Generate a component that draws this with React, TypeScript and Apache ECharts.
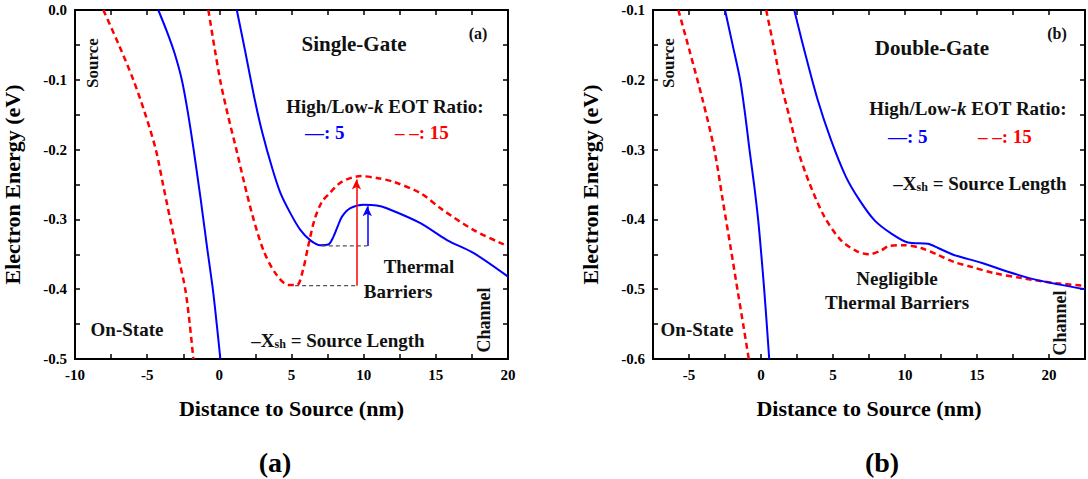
import React, { useEffect, useRef } from 'react';
import * as echarts from 'echarts';

const FONT = '"Liberation Serif", "Times New Roman", serif';
const BLUE = '#0000ff';
const RED = '#ff0000';

// ---------- Panel (a): Single-Gate ----------
const aBlueLeft = [[-4.23, 0], [-3.65, -0.03], [-3.1, -0.062], [-2.6, -0.1], [-2.17, -0.148], [-1.78, -0.2], [-1.3, -0.27], [-0.85, -0.34], [-0.45, -0.4], [-0.18, -0.45], [0.07, -0.5]];
const aRedLeft = [[-8.04, 0], [-7.0, -0.048], [-5.96, -0.1], [-5.15, -0.148], [-4.4, -0.2], [-3.9, -0.25], [-3.4, -0.3], [-2.88, -0.35], [-2.36, -0.4], [-2.05, -0.45], [-1.8, -0.5]];
const aRedRight = [[-0.76, 0], [-0.31, -0.057], [0.1, -0.105], [0.62, -0.153], [1.18, -0.2], [1.73, -0.248], [2.32, -0.296], [3.05, -0.344], [3.88, -0.377], [4.78, -0.394], [5.38, -0.394], [5.8, -0.372], [6.15, -0.339], [6.6, -0.3], [7.1, -0.275], [7.57, -0.264], [8.5, -0.246], [9.8, -0.238], [11.0, -0.241], [12.05, -0.246], [13.9, -0.262], [15.45, -0.286], [17.6, -0.315], [19.5, -0.334], [20, -0.338]];
const aBlueRight = [[1.21, 0], [1.77, -0.057], [2.46, -0.129], [2.98, -0.176], [3.64, -0.225], [4.23, -0.262], [4.92, -0.291], [5.61, -0.315], [6.31, -0.33], [7.0, -0.337], [7.55, -0.336], [7.9, -0.325], [8.2, -0.31], [8.5, -0.296], [9.08, -0.284], [10.0, -0.279], [10.9, -0.28], [11.6, -0.284], [13.9, -0.305], [15.8, -0.33], [17.6, -0.348], [20, -0.382]];
const aBlueGuide = [[7.1, -0.338], [10.25, -0.338]];
const aRedGuide = [[5.25, -0.395], [9.5, -0.395]];
const aBlueArrow = [[10.25, -0.338], [10.25, -0.281]];
const aRedArrow = [[9.5, -0.395], [9.5, -0.243]];

// ---------- Panel (b): Double-Gate ----------
const bRedLeft = [[-5.74, -0.1], [-4.98, -0.157], [-4.05, -0.229], [-3.24, -0.3], [-2.66, -0.372], [-2.08, -0.444], [-1.6, -0.505], [-1.2, -0.555], [-0.85, -0.6]];
const bBlueLeft = [[-2.5, -0.1], [-1.97, -0.15], [-1.45, -0.2], [-1.1, -0.25], [-0.8, -0.3], [-0.48, -0.35], [-0.2, -0.4], [0.02, -0.45], [0.22, -0.5], [0.4, -0.55], [0.57, -0.6]];
const bRedRight = [[0.36, -0.1], [0.93, -0.157], [1.39, -0.205], [1.97, -0.253], [2.55, -0.3], [3.36, -0.348], [4.4, -0.396], [5.56, -0.43], [6.7, -0.446], [7.52, -0.45], [8.3, -0.445], [8.9, -0.438], [9.9, -0.437], [11.1, -0.441], [12.3, -0.451], [13.4, -0.461], [14.6, -0.468], [16.2, -0.477], [18.1, -0.484], [20.3, -0.491], [22.5, -0.495]];
const bBlueRight = [[2.31, -0.1], [3.0, -0.157], [3.94, -0.229], [4.86, -0.286], [5.9, -0.339], [6.83, -0.372], [7.87, -0.401], [9.03, -0.42], [10.2, -0.433], [11.6, -0.435], [12.3, -0.441], [13.4, -0.451], [15.3, -0.462], [17.15, -0.475], [19.2, -0.487], [22.5, -0.5]];

// axis ranges & ticks
const aXRange = [-10, 20];
const aYRange = [-0.5, 0];
const bXRange = [-7.5, 22.5];
const bYRange = [-0.6, -0.1];
const xStep = 2.5;
const yStep = 0.05;

const xTitle = 'Distance to Source (nm)';
const yTitle = 'Electron Energy (eV)';

const xFmt = (v: number) => (Math.abs(v % 5) < 1e-6 ? String(Math.round(v)) : '');
const yFmt = (v: number) => (Math.round(Math.abs(v) * 100) % 10 === 0 ? (Math.abs(v) < 1e-9 ? '0.0' : v.toFixed(1)) : '');

const labelStyle = { fontFamily: FONT, fontWeight: 'bold' as const, fontSize: 15, color: '#000' };
const titleStyle = { fontFamily: FONT, fontWeight: 'bold' as const, fontSize: 22, color: '#000' };

function xAxes(grid: number, range: number[]) {
  const base = {
    type: 'value', gridIndex: grid, min: range[0], max: range[1], interval: xStep,
    splitLine: { show: false },
    axisLine: { show: true, onZero: false, lineStyle: { color: '#000', width: 2 } },
    axisTick: { show: true, inside: true, length: 5, lineStyle: { color: '#000', width: 1.5 } },
  };
  return [
    { ...base, position: 'bottom', axisLabel: { ...labelStyle, formatter: xFmt, margin: 8 },
      name: xTitle, nameLocation: 'middle', nameGap: 38, nameTextStyle: titleStyle },
    { ...base, position: 'top', axisLabel: { show: false } },
  ];
}
function yAxes(grid: number, range: number[], gap: number) {
  const base = {
    type: 'value', gridIndex: grid, min: range[0], max: range[1], interval: yStep,
    splitLine: { show: false },
    axisLine: { show: true, onZero: false, lineStyle: { color: '#000', width: 2 } },
    axisTick: { show: true, inside: true, length: 5, lineStyle: { color: '#000', width: 1.5 } },
  };
  return [
    { ...base, position: 'left', axisLabel: { ...labelStyle, formatter: yFmt, margin: 8 },
      name: yTitle, nameLocation: 'middle', nameGap: gap, nameTextStyle: titleStyle },
    { ...base, position: 'right', axisLabel: { show: false } },
  ];
}

function curve(data: number[][], axis: number, color: string, dashed: boolean) {
  return {
    type: 'line', xAxisIndex: axis, yAxisIndex: axis, data, symbol: 'none', showSymbol: false,
    smooth: 0.3, silent: true,
    lineStyle: { color, width: dashed ? 2.5 : 2, type: dashed ? [6, 4] : 'solid' },
  };
}
function guide(data: number[][], arrow: number[][], color: string) {
  return {
    type: 'line', xAxisIndex: 0, yAxisIndex: 0, data, symbol: 'none', showSymbol: false, silent: true,
    lineStyle: { color: '#555', width: 1.2, type: [4, 3] },
    markLine: {
      silent: true, symbol: ['none', 'arrow'], symbolSize: [7, 10], label: { show: false },
      lineStyle: { color, width: 1.5, type: 'solid' },
      data: [[{ coord: arrow[0] }, { coord: arrow[1] }]],
    },
  };
}

function txt(text: string, x: number, y: number, size: number, opts: any = {}) {
  return {
    type: 'text', x, y, rotation: opts.rot || 0, silent: true,
    style: {
      text, fill: opts.color || '#111', fontFamily: FONT, fontWeight: 'bold', fontSize: size,
      align: opts.align || 'center', verticalAlign: 'middle', rich: opts.rich,
    },
  };
}
const ratioRich = {
  b: { fontFamily: FONT, fontWeight: 'bold', fontSize: 19, fill: '#111' },
  i: { fontFamily: FONT, fontWeight: 'bold', fontStyle: 'italic', fontSize: 19, fill: '#111' },
};
const xshRich = {
  b: { fontFamily: FONT, fontWeight: 'bold', fontSize: 19, fill: '#111', lineHeight: 22 },
  s: { fontFamily: FONT, fontWeight: 'bold', fontSize: 12, fill: '#111', lineHeight: 14, padding: [8, 0, 0, 0] },
};
const RATIO = '{b|High/Low-}{i|k}{b| EOT Ratio:}';
const XSH = '{b|–X}{s|sh}{b| = Source Length}';

const option = {
  animation: false,
  backgroundColor: '#fff',
  grid: [
    { left: 75, top: 10, width: 433, height: 349 },
    { left: 653, top: 10, width: 432, height: 349 },
  ],
  xAxis: [...xAxes(0, aXRange), ...xAxes(1, bXRange)],
  yAxis: [...yAxes(0, aYRange, 52), ...yAxes(1, bYRange, 52)],
  series: [
    curve(aRedLeft, 0, RED, true),
    curve(aBlueLeft, 0, BLUE, false),
    curve(aRedRight, 0, RED, true),
    curve(aBlueRight, 0, BLUE, false),
    guide(aBlueGuide, aBlueArrow, BLUE),
    guide(aRedGuide, aRedArrow, RED),
    { ...curve(bRedLeft, 2, RED, true), xAxisIndex: 2, yAxisIndex: 2 },
    { ...curve(bBlueLeft, 2, BLUE, false), xAxisIndex: 2, yAxisIndex: 2 },
    { ...curve(bRedRight, 2, RED, true), xAxisIndex: 2, yAxisIndex: 2 },
    { ...curve(bBlueRight, 2, BLUE, false), xAxisIndex: 2, yAxisIndex: 2 },
  ],
  graphic: [
    // panel (a)
    txt('Source', 92, 63, 17, { rot: Math.PI / 2 }),
    txt('Single-Gate', 354, 44, 21),
    txt('(a)', 478, 33, 16),
    txt(RATIO, 385, 106, 19, { rich: ratioRich }),
    txt('—: 5', 305, 132, 19, { color: BLUE, align: 'left' }),
    txt('– –: 15', 395, 132, 19, { color: RED, align: 'left' }),
    txt('Thermal', 419, 266, 19),
    txt('Barriers', 398, 291, 19),
    txt(XSH, 338, 340, 19, { rich: xshRich }),
    txt('On-State', 127, 329, 19),
    txt('Channel', 484, 320, 18, { rot: Math.PI / 2 }),
    // panel (b)
    txt('Source', 668, 63, 17, { rot: Math.PI / 2 }),
    txt('Double-Gate', 932, 48, 21),
    txt('(b)', 1057, 33, 16),
    txt(RATIO, 968, 108, 19, { rich: ratioRich }),
    txt('—: 5', 888, 136, 19, { color: BLUE, align: 'left' }),
    txt('– –: 15', 978, 136, 19, { color: RED, align: 'left' }),
    txt(XSH, 980, 183, 19, { rich: xshRich }),
    txt('Negligible', 897, 278, 19),
    txt('Thermal Barriers', 897, 302, 19),
    txt('On-State', 697, 329, 19),
    txt('Channel', 1060, 323, 18, { rot: Math.PI / 2 }),
    // sub-figure captions
    txt('(a)', 275, 462, 28, { color: '#000' }),
    txt('(b)', 882, 462, 28, { color: '#000' }),
  ],
};

export default function App() {
  const ref = useRef<HTMLDivElement>(null);
  useEffect(() => {
    document.body.style.margin = '0';
    const chart = echarts.init(ref.current!, null, { renderer: 'svg' });
    chart.setOption(option as any);
    return () => chart.dispose();
  }, []);
  return <div ref={ref} style={{ width: 1088, height: 479 }} />;
}
